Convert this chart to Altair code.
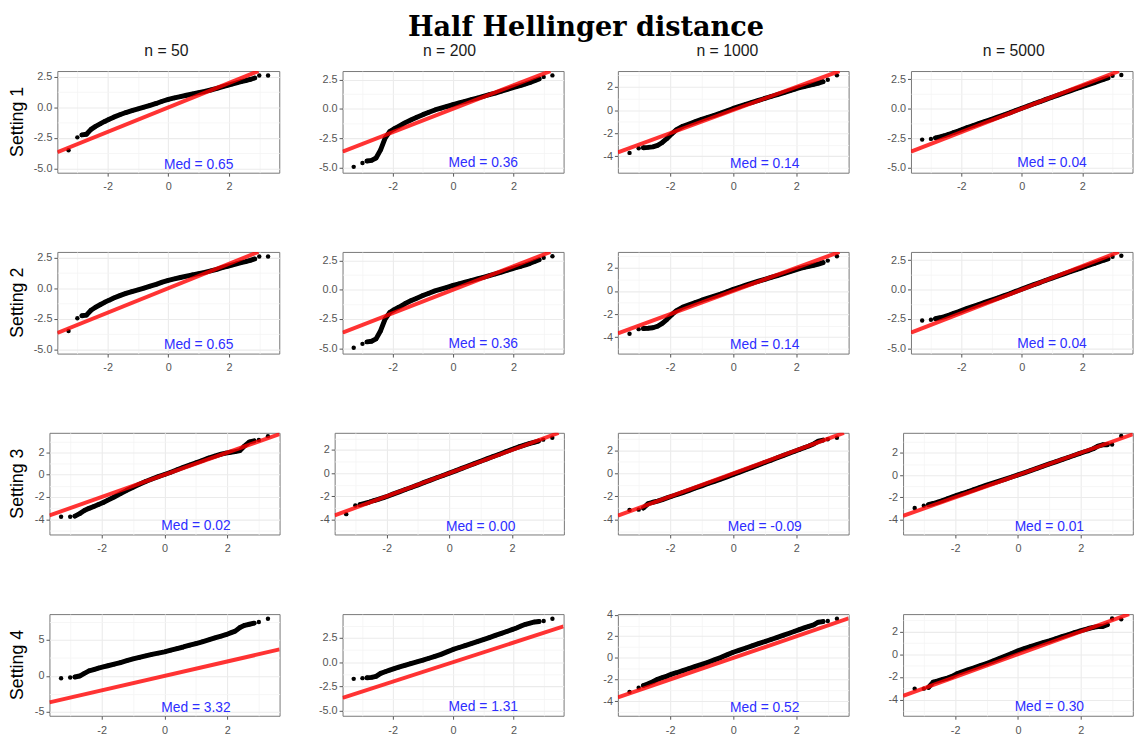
import altair as alt
import pandas as pd

# ---------------- data ----------------
TITLE = "Half Hellinger distance"
COL_TITLES = ["n = 50", "n = 200", "n = 1000", "n = 5000"]
ROW_TITLES = ["Setting 1", "Setting 2", "Setting 3", "Setting 4"]
MEDIANS = [
    [0.65, 0.36, 0.14, 0.04],
    [0.65, 0.36, 0.14, 0.04],
    [0.02, 0.00, -0.09, 0.01],
    [3.32, 1.31, 0.52, 0.30],
]

# theoretical quantiles at which sample quantiles were read
THEO_Q = [-3.29, -3.0, -2.85, -2.7, -2.55, -2.4, -2.25, -2.1, -1.95, -1.8,
          -1.6, -1.4, -1.2, -1.0, -0.8, -0.6, -0.4, -0.2, 0.0, 0.2,
          0.4, 0.6, 0.8, 1.0, 1.2, 1.4, 1.6, 1.8, 1.95, 2.1,
          2.25, 2.4, 2.55, 2.7, 2.85, 3.0, 3.29]

S1_N50 = [-3.5, -2.45, -2.25, -2.2, -1.8, -1.55, -1.35, -1.15, -0.97, -0.8,
          -0.6, -0.42, -0.27, -0.13, 0.02, 0.17, 0.32, 0.5, 0.65, 0.77,
          0.88, 0.99, 1.1, 1.2, 1.3, 1.42, 1.55, 1.7, 1.8, 1.9,
          2.0, 2.1, 2.18, 2.28, 2.4, 2.6, 2.6]
S1_N200 = [-4.95, -4.62, -4.45, -4.4, -4.2, -3.5, -2.5, -1.95, -1.7, -1.5,
           -1.2, -0.95, -0.72, -0.5, -0.3, -0.1, 0.05, 0.2, 0.36, 0.5,
           0.64, 0.78, 0.92, 1.06, 1.2, 1.34, 1.5, 1.66, 1.78, 1.9,
           2.0, 2.12, 2.25, 2.4, 2.55, 2.72, 2.85]
S1_N1000 = [-3.7, -3.3, -3.25, -3.22, -3.18, -3.05, -2.8, -2.45, -2.05, -1.7,
            -1.4, -1.2, -1.0, -0.8, -0.62, -0.45, -0.27, -0.07, 0.14, 0.32,
            0.5, 0.67, 0.84, 1.0, 1.17, 1.33, 1.5, 1.67, 1.8, 1.93,
            2.03, 2.13, 2.22, 2.32, 2.45, 2.62, 3.0]
S1_N5000 = [-2.63, -2.57, -2.48, -2.4, -2.3, -2.17, -2.03, -1.9, -1.75, -1.6,
            -1.43, -1.25, -1.07, -0.9, -0.72, -0.53, -0.35, -0.15, 0.04, 0.23,
            0.42, 0.6, 0.8, 0.98, 1.16, 1.34, 1.52, 1.7, 1.83, 1.97,
            2.1, 2.23, 2.36, 2.5, 2.62, 2.8, 2.88]

S2_N50 = list(S1_N50)
S2_N200 = list(S1_N200)
S2_N1000 = list(S1_N1000)
S2_N5000 = list(S1_N5000)

S3_N50 = [-3.77, -3.77, -3.72, -3.5, -3.22, -3.02, -2.85, -2.68, -2.5, -2.28,
          -2.0, -1.7, -1.4, -1.12, -0.86, -0.6, -0.38, -0.17, 0.02, 0.23,
          0.45, 0.67, 0.88, 1.08, 1.28, 1.5, 1.68, 1.85, 1.95, 2.02,
          2.08, 2.17, 2.6, 2.95, 3.05, 3.13, 3.47]
S3_N200 = [-3.55, -2.8, -2.72, -2.62, -2.5, -2.37, -2.25, -2.12, -1.98, -1.82,
           -1.62, -1.42, -1.22, -1.02, -0.8, -0.6, -0.4, -0.2, 0.0, 0.2,
           0.41, 0.62, 0.82, 1.03, 1.23, 1.44, 1.64, 1.85, 2.0, 2.15,
           2.3, 2.43, 2.55, 2.66, 2.78, 2.9, 3.07]
S3_N1000 = [-3.17, -3.14, -3.0, -2.62, -2.5, -2.4, -2.27, -2.12, -1.98, -1.85,
            -1.66, -1.47, -1.27, -1.08, -0.88, -0.69, -0.5, -0.3, -0.09, 0.11,
            0.31, 0.52, 0.73, 0.94, 1.14, 1.35, 1.56, 1.76, 1.92, 2.07,
            2.22, 2.37, 2.55, 2.78, 2.88, 2.95, 3.09]
S3_N5000 = [-2.96, -2.75, -2.65, -2.55, -2.42, -2.28, -2.12, -1.97, -1.82, -1.68,
            -1.5, -1.3, -1.1, -0.9, -0.72, -0.54, -0.36, -0.17, 0.01, 0.2,
            0.4, 0.6, 0.8, 1.0, 1.19, 1.38, 1.58, 1.78, 1.92, 2.07,
            2.2, 2.36, 2.6, 2.72, 2.72, 2.75, 3.5]

S4_N50 = [-0.32, -0.23, -0.15, -0.02, 0.35, 0.7, 0.88, 1.08, 1.25, 1.4,
          1.62, 1.85, 2.1, 2.35, 2.55, 2.77, 2.98, 3.15, 3.32, 3.55,
          3.78, 4.0, 4.25, 4.48, 4.72, 4.98, 5.25, 5.5, 5.7, 5.95,
          6.2, 6.7, 7.0, 7.15, 7.3, 7.45, 7.9]
S4_N200 = [-1.71, -1.64, -1.6, -1.56, -1.45, -1.15, -0.98, -0.82, -0.66, -0.52,
           -0.33, -0.14, 0.03, 0.2, 0.4, 0.6, 0.8, 1.05, 1.3, 1.5,
           1.7, 1.9, 2.1, 2.31, 2.52, 2.74, 2.95, 3.17, 3.33, 3.5,
           3.7, 3.88, 4.0, 4.12, 4.17, 4.22, 4.45]
S4_N1000 = [-3.14, -2.75, -2.55, -2.4, -2.2, -1.98, -1.82, -1.68, -1.5, -1.37,
            -1.18, -0.98, -0.78, -0.6, -0.4, -0.18, 0.03, 0.28, 0.52, 0.72,
            0.92, 1.12, 1.32, 1.5, 1.7, 1.9, 2.1, 2.3, 2.46, 2.62,
            2.78, 2.92, 3.05, 3.3, 3.36, 3.42, 3.63]
S4_N5000 = [-3.03, -3.03, -2.92, -2.45, -2.35, -2.22, -2.1, -1.95, -1.72, -1.58,
            -1.38, -1.2, -1.0, -0.81, -0.6, -0.38, -0.16, 0.07, 0.3, 0.5,
            0.68, 0.85, 1.02, 1.18, 1.37, 1.55, 1.72, 1.9, 2.03, 2.15,
            2.27, 2.37, 2.45, 2.45, 2.6, 3.15, 3.08]

SAMPLE_Q = [
    [S1_N50, S1_N200, S1_N1000, S1_N5000],
    [S2_N50, S2_N200, S2_N1000, S2_N5000],
    [S3_N50, S3_N200, S3_N1000, S3_N5000],
    [S4_N50, S4_N200, S4_N1000, S4_N5000],
]

# ---------------- scales / axes settings ----------------
X_DOMAIN = [-3.66, 3.66]
Y_DOMAINS = [
    [[-5.34, 2.97], [-5.45, 3.22], [-5.41, 3.37], [-5.45, 3.21]],
    [[-5.34, 2.97], [-5.45, 3.22], [-5.41, 3.37], [-5.45, 3.21]],
    [[-5.37, 3.77], [-5.31, 3.49], [-5.29, 3.51], [-5.33, 3.79]],
    [[-5.52, 8.55], [-5.49, 4.92], [-5.35, 4.05], [-5.42, 3.54]],
]
Y_STEPS = [
    [2.5, 2.5, 2, 2.5],
    [2.5, 2.5, 2, 2.5],
    [2, 2, 2, 2],
    [5, 2.5, 2, 2],
]
X_STEP = 2
MED_POS = (1.0, -5.0)

# ---------------- layout (pixels) ----------------
W0 = 18            # row-label column
S = 4              # horizontal spacing
PANEL_H = 103
XEXT = 21
V = 57.3
OV = 5
TOP_H = 56.2       # title + column headers block
HEADER_BASE = 42.5
TITLE_Y = 0
TITLE_SIZE = 27.5
R_EDGES = [272, 558.3, 844.8, 1130.4]
EXT_NARROW = [16.8, 50.0, 48.7, 48.8]
WIDE_EXTRA = 8.3
TITLE_X = 584.7

FONT = "Liberation Sans"
LABEL_COLOR = "#555555"
GRID_MAJOR = "#EBEBEB"
GRID_MINOR = "#F4F4F4"
NOSTROKE = alt.ViewBackground(stroke="transparent")


def tick_values(lo, hi, step):
    half = step / 2.0
    k0 = int(lo // half) - 1
    k1 = int(hi // half) + 2
    vals = []
    for k in range(k0, k1):
        v = round(k * half, 6)
        if lo <= v <= hi:
            vals.append(v)
    return vals


def major_test(step):
    return f"abs(datum.value / {step} - round(datum.value / {step})) < 0.001"


def make_axis(values, step, fmt, orient, extent):
    test = major_test(step)
    return alt.Axis(
        values=values,
        labelExpr=f"{test} ? ((datum.value < 0 ? '-' : '') + format(abs(datum.value), '{fmt}')) : ''",
        grid=True,
        gridColor={"condition": {"test": test, "value": GRID_MAJOR}, "value": GRID_MINOR},
        gridWidth={"condition": {"test": test, "value": 1.1}, "value": 0.8},
        tickOpacity={"condition": {"test": test, "value": 1}, "value": 0},
        tickColor="#555555",
        tickSize=3.5,
        tickWidth=1,
        domain=False,
        labelFont=FONT,
        labelFontSize=11,
        labelColor=LABEL_COLOR,
        labelPadding=5 if orient == "bottom" else 2,
        minExtent=extent,
        maxExtent=extent,
        orient=orient,
        title=None,
    )


def layout_row(i):
    """left extent and width of each panel of row i"""
    out = []
    prev_right = W0
    for j in range(4):
        wide = Y_STEPS[i][j] == 2.5
        e = EXT_NARROW[j] + (WIDE_EXTRA if wide else 0)
        left = prev_right + S + e
        out.append((prev_right, e, R_EDGES[j] - left))
        prev_right = R_EDGES[j]
    return out


def panel(i, j, width, yext):
    ys = SAMPLE_Q[i][j]
    df = pd.DataFrame({"q": THEO_Q, "s": ys})
    df_band = df.iloc[2:-2]
    ydom = Y_DOMAINS[i][j]
    step = Y_STEPS[i][j]
    fmt = ".1f" if step == 2.5 else ".0f"

    xs = alt.Scale(domain=X_DOMAIN, nice=False, zero=False)
    ysc = alt.Scale(domain=ydom, nice=False, zero=False)
    xaxis = make_axis(tick_values(X_DOMAIN[0], X_DOMAIN[1], X_STEP), X_STEP, ".0f", "bottom", XEXT)
    yaxis = make_axis(tick_values(ydom[0], ydom[1], step), step, fmt, "left", yext)
    X = alt.X("q:Q", scale=xs, axis=xaxis, title=None)
    Y = alt.Y("s:Q", scale=ysc, axis=yaxis, title=None)

    # identity reference line y = x, limited to the visible panel
    lo = max(X_DOMAIN[0], ydom[0])
    hi = min(X_DOMAIN[1], ydom[1])
    ref_df = pd.DataFrame({"q": [lo, hi], "s": [lo, hi]})

    band = alt.Chart(df_band).mark_line(
        color="black", strokeWidth=5, strokeCap="round", strokeJoin="round", clip=True
    ).encode(x=X, y=Y)
    pts = alt.Chart(df).mark_circle(color="black", opacity=1, size=20, clip=True).encode(x=X, y=Y)
    ref = alt.Chart(ref_df).mark_line(
        color="#FF0000", opacity=0.8, strokeWidth=4, clip=True
    ).encode(x=X, y=Y)
    txt = alt.Chart(pd.DataFrame({"q": [MED_POS[0]], "s": [MED_POS[1]],
                                  "t": [f"Med = {MEDIANS[i][j]:.2f}"]})).mark_text(
        color="#2E2EFF", fontSize=14, font=FONT, baseline="alphabetic", align="center"
    ).encode(x=X, y=Y, text="t:N")

    return alt.layer(band, pts, ref, txt).properties(
        width=width, height=PANEL_H,
        view=alt.ViewBackground(stroke="#777777", strokeWidth=1, fill="white"),
    )


def row(i):
    spacer = alt.Chart(pd.DataFrame({"t": [ROW_TITLES[i]]})).mark_text(
        angle=270, fontSize=18, font=FONT, color="black", align="center", baseline="middle"
    ).encode(x=alt.value(W0 / 2), y=alt.value(PANEL_H / 2), text="t:N").properties(
        width=W0, height=PANEL_H, view=NOSTROKE)
    items = [spacer]
    for j, (_, e, w) in enumerate(layout_row(i)):
        items.append(panel(i, j, w, e))
    return alt.hconcat(*items, spacing=S)


# main title and column headers in one block
top_layers = [
    alt.Chart(pd.DataFrame({"t": [TITLE]})).mark_text(
        font="DejaVu Serif", fontSize=TITLE_SIZE, fontWeight="bold", color="black",
        align="center", baseline="top"
    ).encode(x=alt.value(TITLE_X), y=alt.value(TITLE_Y), text="t:N")
]
for j, (prev_right, e, w) in enumerate(layout_row(0)):
    cx = prev_right + S + e + w / 2
    top_layers.append(
        alt.Chart(pd.DataFrame({"t": [COL_TITLES[j]]})).mark_text(
            font=FONT, fontSize=16, color="#1A1A1A", align="center", baseline="alphabetic"
        ).encode(x=alt.value(cx), y=alt.value(HEADER_BASE), text="t:N")
    )
top = alt.layer(*top_layers).properties(width=R_EDGES[3], height=TOP_H, view=NOSTROKE)

upper = alt.vconcat(row(0), row(1), row(2), spacing=V)
body = alt.vconcat(upper, row(3), spacing=V - OV)
chart = alt.vconcat(top, body, spacing=0).properties(
    padding=0,
    background="white",
)

chart.save("out.html", embed_options={"renderer": "svg", "actions": False})
